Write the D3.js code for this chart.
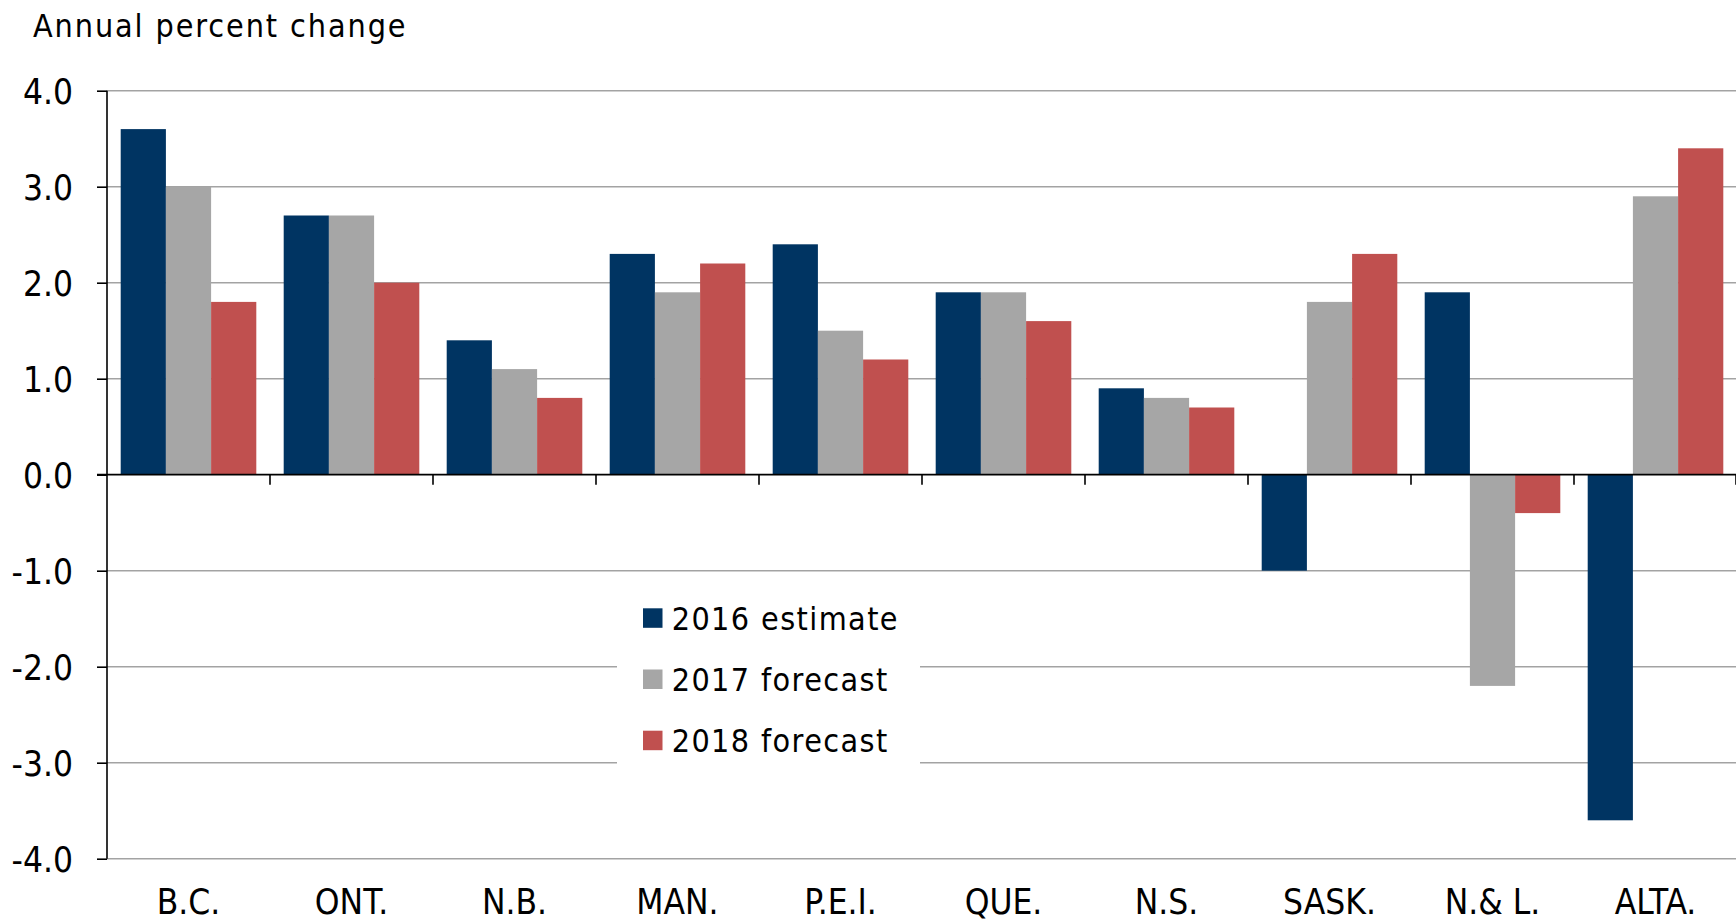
<!DOCTYPE html>
<html>
<head>
<meta charset="utf-8">
<script src="https://cdn.jsdelivr.net/npm/d3@7"></script>
<style>
  html, body { margin: 0; padding: 0; background: #fff; }
  svg { display: block; }
  text { font-family: "DejaVu Sans Condensed", "DejaVu Sans", sans-serif; fill: #000; }
</style>
</head>
<body>
<script>
// Provinces, in the order they are plotted
const provinces = ["B.C.", "ONT.", "N.B.", "MAN.", "P.E.I.", "QUE.", "N.S.", "SASK.", "N.& L.", "ALTA."];

// Annual percent change by province
const est2016  = [3.6, 2.7, 1.4, 2.3, 2.4, 1.9, 0.9, -1.0, 1.9, -3.6];
const fcst2017 = [3.0, 2.7, 1.1, 1.9, 1.5, 1.9, 0.8, 1.8, -2.2, 2.9];
const fcst2018 = [1.8, 2.0, 0.8, 2.2, 1.2, 1.6, 0.7, 2.3, -0.4, 3.4];

const seriesNames = ["2016 estimate", "2017 forecast", "2018 forecast"];
const seriesColors = ["#003462", "#a6a6a6", "#c0504f"];
const seriesValues = [est2016, fcst2017, fcst2018];

const yTicks = [4, 3, 2, 1, 0, -1, -2, -3, -4];

const W = 1736, H = 923;
const plot = { left: 107, right: 1737, top: 90.7, bottom: 858.7 };

const svg = d3.select("body").append("svg")
  .attr("width", W).attr("height", H);

const y = d3.scaleLinear().domain([-4, 4]).range([plot.bottom, plot.top]);
const x0 = d3.scaleBand().domain(provinces).range([plot.left, plot.right]).paddingInner(0).paddingOuter(0);
const groupPad = 13.7;
const x1 = d3.scaleBand().domain(d3.range(seriesNames.length))
  .range([groupPad, x0.bandwidth() - groupPad]).padding(0);

// horizontal gridlines
svg.append("g").selectAll("line")
  .data(yTicks.filter(d => d !== 0))
  .join("line")
  .attr("x1", plot.left).attr("x2", plot.right)
  .attr("y1", d => y(d)).attr("y2", d => y(d))
  .attr("stroke", "#a3a3a3").attr("stroke-width", 1.6);

// bars
const rows = provinces.map((p, i) => ({ p, vals: seriesValues.map(s => s[i]) }));
svg.append("g").selectAll("g")
  .data(rows)
  .join("g")
  .attr("transform", d => `translate(${x0(d.p)},0)`)
  .selectAll("rect")
  .data(d => d.vals.map((v, k) => ({ v, k })))
  .join("rect")
  .attr("x", d => x1(d.k))
  .attr("width", x1.bandwidth())
  .attr("y", d => y(Math.max(0, d.v)))
  .attr("height", d => Math.abs(y(d.v) - y(0)))
  .attr("fill", d => seriesColors[d.k]);

// legend box, drawn over the gridlines
const lg = svg.append("g").attr("transform", "translate(617,592)");
lg.append("rect").attr("x", 0).attr("y", 0).attr("width", 303).attr("height", 184).attr("fill", "#fff");
seriesNames.forEach((name, k) => {
  const row = lg.append("g").attr("transform", `translate(0,${16.3 + k * 61.2})`);
  row.append("rect").attr("x", 26).attr("y", 0).attr("width", 19.5).attr("height", 19.5)
    .attr("fill", seriesColors[k]);
  row.append("text").attr("x", 54.7).attr("y", 21.7)
    .attr("font-size", 32).attr("letter-spacing", 1.4)
    .text(name);
});

// y axis
const yAxis = d3.axisLeft(y).tickValues(yTicks).tickFormat(d => d.toFixed(1)).tickSize(10).tickPadding(24);
const ya = svg.append("g").attr("transform", `translate(${plot.left},0)`).call(yAxis);
ya.select(".domain").attr("stroke", "#000").attr("stroke-width", 1.6).attr("d", `M0,${plot.top}V${plot.bottom}`);
ya.selectAll(".tick line").attr("stroke", "#000").attr("stroke-width", 1.6);
ya.selectAll(".tick text").attr("font-size", 35)
  .attr("font-family", '"DejaVu Sans Condensed", "DejaVu Sans", sans-serif').attr("fill", "#000")
  .attr("dy", "0.36em");

// zero line with category separators
const xa = svg.append("g").attr("transform", `translate(0,${y(0)})`);
xa.append("line").attr("x1", plot.left - 10).attr("x2", plot.right)
  .attr("stroke", "#000").attr("stroke-width", 1.8);
xa.selectAll("line.sep")
  .data(provinces.slice(1).map(p => x0(p)).concat([plot.right - 1]))
  .join("line").attr("class", "sep")
  .attr("x1", d => d).attr("x2", d => d).attr("y1", 0).attr("y2", 10)
  .attr("stroke", "#000").attr("stroke-width", 1.6);

// category labels along the bottom
svg.append("g").selectAll("text")
  .data(provinces)
  .join("text")
  .attr("x", d => x0(d) + x0.bandwidth() / 2)
  .attr("y", 914)
  .attr("text-anchor", "middle")
  .attr("font-size", 35)
  .text(d => d);

// axis title
svg.append("text").attr("x", 33).attr("y", 36.7)
  .attr("font-size", 32).attr("letter-spacing", 1.9)
  .text("Annual percent change");
</script>
</body>
</html>
